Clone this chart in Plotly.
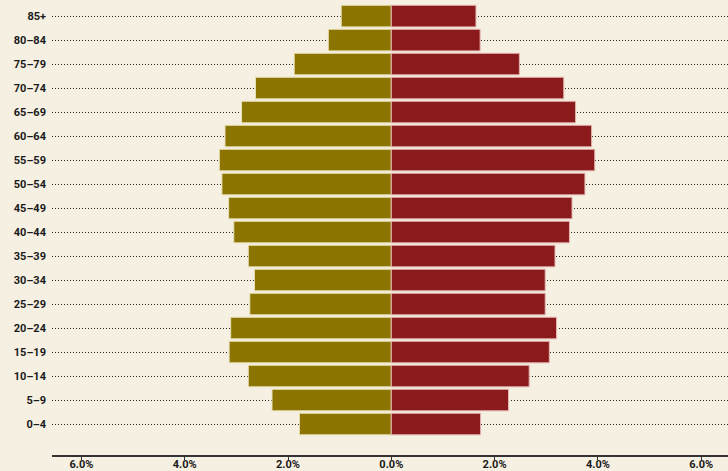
import plotly.graph_objects as go

age_groups = ["0–4", "5–9", "10–14", "15–19", "20–24", "25–29", "30–34", "35–39",
              "40–44", "45–49", "50–54", "55–59", "60–64", "65–69", "70–74",
              "75–79", "80–84", "85+"]
left_pct = [1.78, 2.31, 2.77, 3.14, 3.11, 2.74, 2.65, 2.77, 3.05, 3.15, 3.28,
            3.33, 3.22, 2.90, 2.63, 1.88, 1.22, 0.97]
right_pct = [1.73, 2.27, 2.67, 3.06, 3.20, 2.98, 2.98, 3.17, 3.45, 3.50, 3.75,
             3.94, 3.88, 3.57, 3.34, 2.48, 1.72, 1.64]
tick_vals = [-6, -4, -2, 0, 2, 4, 6]
tick_text = ["6.0%", "4.0%", "2.0%", "0.0%", "2.0%", "4.0%", "6.0%"]

bg = "#F6F0E3"
font_family = "Roboto, Arial"

fig = go.Figure()
fig.add_trace(go.Bar(
    y=age_groups, x=[-v for v in left_pct], orientation="h",
    marker=dict(color="#8B7500", line=dict(color="#E9E0B8", width=1)),
    width=0.9, showlegend=False))
fig.add_trace(go.Bar(
    y=age_groups, x=right_pct, orientation="h",
    marker=dict(color="#8B1A1C", line=dict(color="#E3B8B0", width=1)),
    width=0.9, showlegend=False))

fig.update_layout(
    width=728, height=471,
    barmode="relative",
    paper_bgcolor=bg, plot_bgcolor=bg,
    margin=dict(l=52, r=0, t=0, b=16, autoexpand=False),
    font=dict(family=font_family, size=11, color="#1a1a1a"),
)
fig.update_xaxes(
    range=[-6.57, 6.52],
    tickmode="array", tickvals=tick_vals, ticktext=tick_text,
    showgrid=False, zeroline=False,
    showline=True, linecolor="#333333", linewidth=1.5,
    ticks="outside", ticklen=3, tickcolor="#333333", tickwidth=1,
    ticklabelstandoff=-5,
    tickfont=dict(family=font_family, size=11, color="#1a1a1a", weight="bold"),
    fixedrange=True, automargin=False,
)
fig.update_yaxes(
    type="category",
    range=[-1.29, 17.67],
    showgrid=True, gridcolor="#222222", gridwidth=1, griddash="1px,2px",
    zeroline=False, showline=False, ticks="", ticklabelstandoff=5,
    tickfont=dict(family=font_family, size=11, color="#1a1a1a", weight="bold"),
    fixedrange=True, automargin=False,
)

fig.write_html(
    "out.html",
    config={"displayModeBar": False},
    post_script="document.body.style.margin='0';document.body.style.background='" + bg + "';",
)
